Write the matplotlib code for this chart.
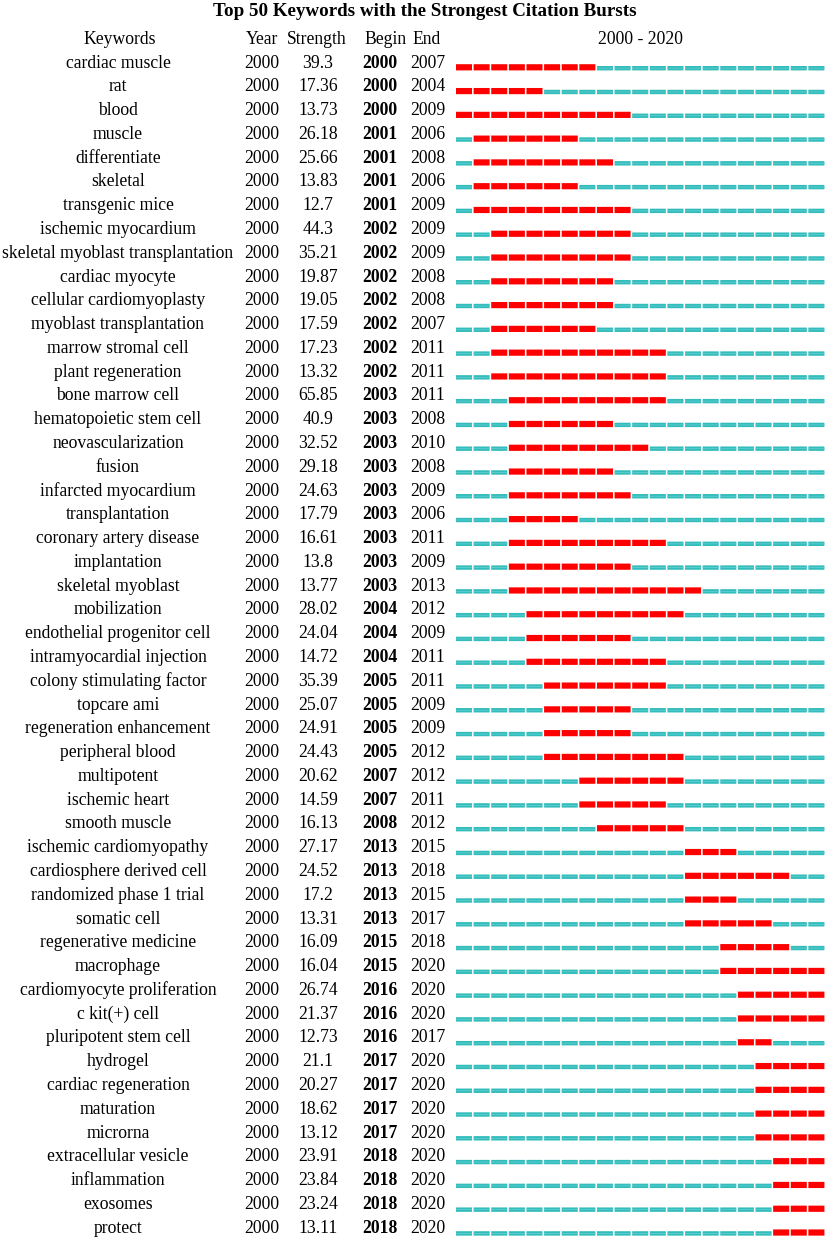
import matplotlib
matplotlib.use("Agg")
import matplotlib.pyplot as plt

keywords = ["cardiac muscle", "rat", "blood", "muscle", "differentiate", "skeletal",
            "transgenic mice", "ischemic myocardium", "skeletal myoblast transplantation",
            "cardiac myocyte", "cellular cardiomyoplasty", "myoblast transplantation",
            "marrow stromal cell", "plant regeneration", "bone marrow cell",
            "hematopoietic stem cell", "neovascularization", "fusion", "infarcted myocardium",
            "transplantation", "coronary artery disease", "implantation", "skeletal myoblast",
            "mobilization", "endothelial progenitor cell", "intramyocardial injection",
            "colony stimulating factor", "topcare ami", "regeneration enhancement",
            "peripheral blood", "multipotent", "ischemic heart", "smooth muscle",
            "ischemic cardiomyopathy", "cardiosphere derived cell", "randomized phase 1 trial",
            "somatic cell", "regenerative medicine", "macrophage", "cardiomyocyte proliferation",
            "c kit(+) cell", "pluripotent stem cell", "hydrogel", "cardiac regeneration",
            "maturation", "microrna", "extracellular vesicle", "inflammation", "exosomes",
            "protect"]
year = [2000] * 50
strength = [39.3, 17.36, 13.73, 26.18, 25.66, 13.83, 12.7, 44.3, 35.21, 19.87,
            19.05, 17.59, 17.23, 13.32, 65.85, 40.9, 32.52, 29.18, 24.63, 17.79,
            16.61, 13.8, 13.77, 28.02, 24.04, 14.72, 35.39, 25.07, 24.91, 24.43,
            20.62, 14.59, 16.13, 27.17, 24.52, 17.2, 13.31, 16.09, 16.04, 26.74,
            21.37, 12.73, 21.1, 20.27, 18.62, 13.12, 23.91, 23.84, 23.24, 13.11]
begin = [2000, 2000, 2000, 2001, 2001, 2001, 2001, 2002, 2002, 2002,
         2002, 2002, 2002, 2002, 2003, 2003, 2003, 2003, 2003, 2003,
         2003, 2003, 2003, 2004, 2004, 2004, 2005, 2005, 2005, 2005,
         2007, 2007, 2008, 2013, 2013, 2013, 2013, 2015, 2015, 2016,
         2016, 2016, 2017, 2017, 2017, 2017, 2018, 2018, 2018, 2018]
end = [2007, 2004, 2009, 2006, 2008, 2006, 2009, 2009, 2009, 2008,
       2008, 2007, 2011, 2011, 2011, 2008, 2010, 2008, 2009, 2006,
       2011, 2009, 2013, 2012, 2009, 2011, 2011, 2009, 2009, 2012,
       2012, 2011, 2012, 2015, 2018, 2015, 2017, 2018, 2020, 2020,
       2020, 2017, 2020, 2020, 2020, 2020, 2020, 2020, 2020, 2020]
first_year, last_year = 2000, 2020

plt.rcParams['font.family'] = ['Liberation Serif', 'DejaVu Serif']
fs = 12.7

fig = plt.figure(figsize=(8.29, 12.4), dpi=100)
tab = fig.add_axes([0, 0, 1, 1])
tab.set_xlim(0, 829)
tab.set_ylim(1240, 0)
tab.axis('off')

# bar panel: x in years, y shares pixel rows with the table
bars = fig.add_axes([456 / 829, 0, 370 / 829, 1])
bars.set_xlim(first_year, last_year + 1)
bars.set_ylim(1240, 0)
bars.axis('off')

y0, dy = 63.0, 23.78
col_x = {"kw": 118, "year": 262, "str": 318, "beg": 380, "end": 428}

tab.text(425, 12, "Top 50 Keywords with the Strongest Citation Bursts",
         ha='center', va='center', fontsize=13.7, fontweight='bold')
hy = 40
tab.text(120, hy, "Keywords", ha='center', va='center', fontsize=fs)
tab.text(262, hy, "Year", ha='center', va='center', fontsize=fs)
tab.text(317, hy, "Strength", ha='center', va='center', fontsize=fs)
tab.text(386, hy, "Begin", ha='center', va='center', fontsize=fs)
tab.text(427, hy, "End", ha='center', va='center', fontsize=fs)
tab.text(641, hy, f"{first_year} - {last_year}", ha='center', va='center', fontsize=fs)

yrs = list(range(first_year, last_year + 1))
w = 0.91
for i, kw in enumerate(keywords):
    y = y0 + i * dy
    tab.text(col_x["kw"], y, kw, ha='center', va='center', fontsize=fs)
    tab.text(col_x["year"], y, str(year[i]), ha='center', va='center', fontsize=fs)
    tab.text(col_x["str"], y, f"{strength[i]:g}", ha='center', va='center', fontsize=fs)
    tab.text(col_x["beg"], y, str(begin[i]), ha='center', va='center', fontsize=fs,
             fontweight='bold')
    tab.text(col_x["end"], y, str(end[i]), ha='center', va='center', fontsize=fs)

    hot = [yr for yr in yrs if begin[i] <= yr <= end[i]]
    cold = [yr for yr in yrs if not (begin[i] <= yr <= end[i])]
    if cold:
        bars.barh([y + 5.2] * len(cold), [w] * len(cold), left=cold, height=4.4,
                  color='#33bcbc', edgecolor='none', snap=False)
        bars.barh([y + 5.2] * len(cold), [w] * len(cold), left=cold, height=0.8,
                  color='#62cfcf', edgecolor='none', snap=False)
    if hot:
        bars.barh([y + 4.3] * len(hot), [w] * len(hot), left=hot, height=6.2,
                  color='#ff0000', edgecolor='none', snap=False)

fig.savefig("out.png", dpi=100)
